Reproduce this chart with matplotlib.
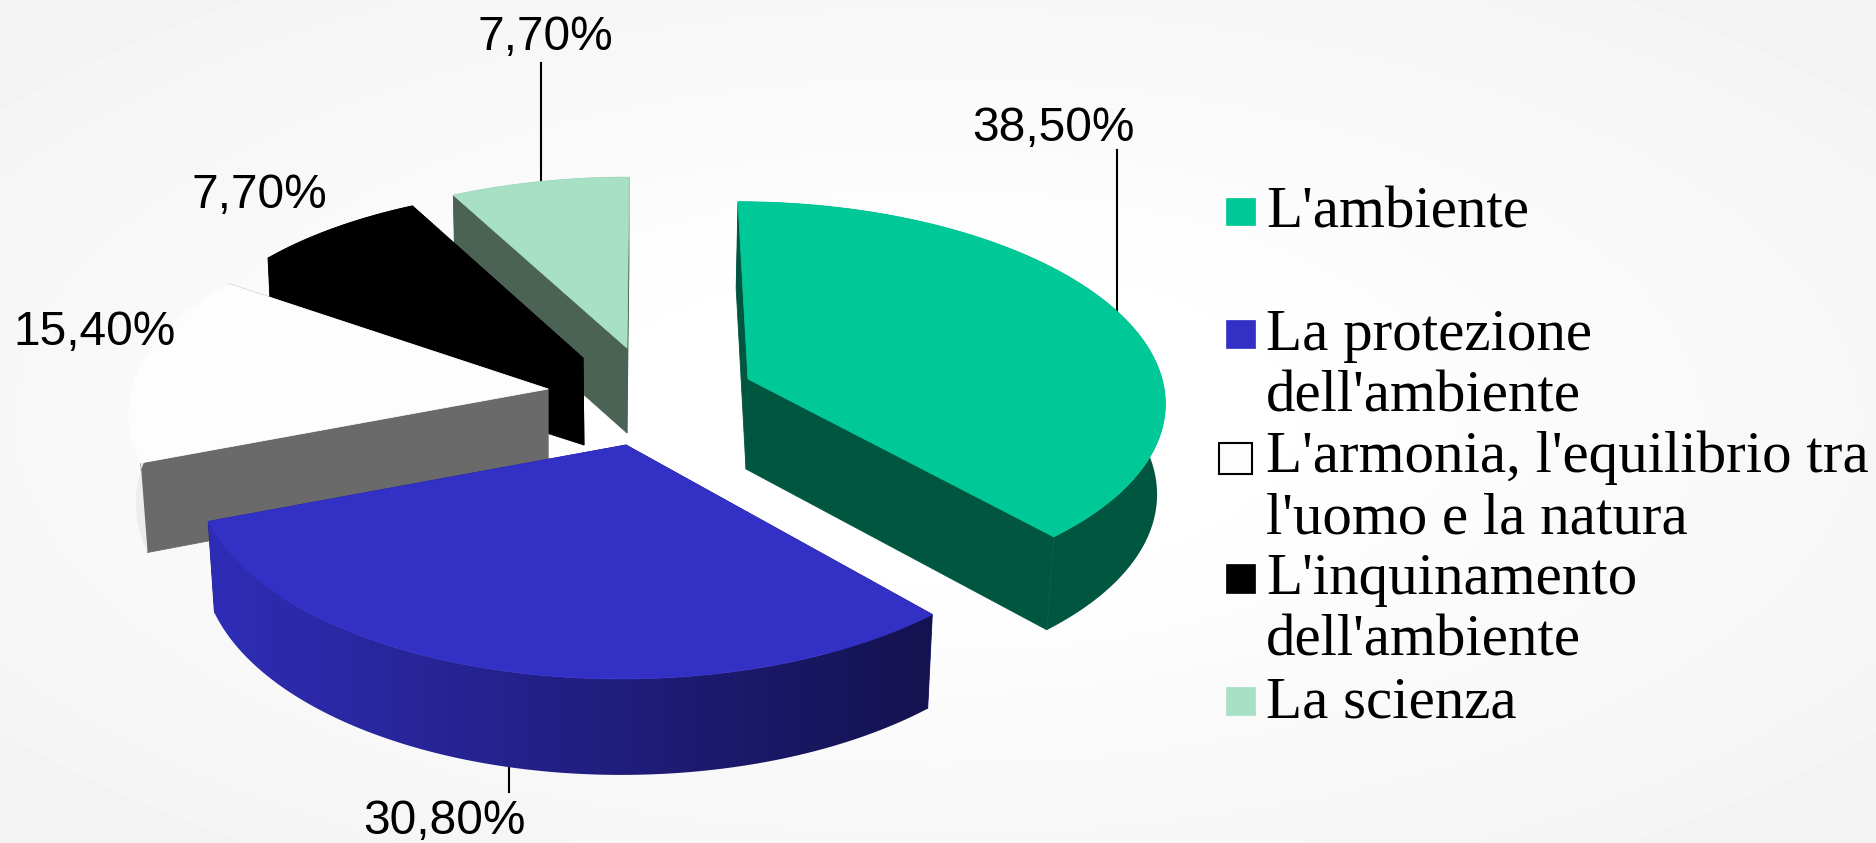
import numpy as np
import matplotlib
matplotlib.use('Agg')
import matplotlib.pyplot as plt
from matplotlib.colors import LinearSegmentedColormap
from matplotlib.patches import Polygon, Rectangle

##########################################################################################
#Data
labels = ["L'ambiente", "La protezione\ndell'ambiente", "L'armonia, l'equilibrio tra\nl'uomo e la natura",
          "L'inquinamento\ndell'ambiente", "La scienza"]
values = [38.5, 30.8, 15.4, 7.7, 7.7]
top_colors = ['#00C896', '#3330C6', '#FDFDFD', '#000000', '#A8E0C6']
cut_colors = ['#015640', '#1E1C80', '#6A6A6A', '#000000', '#4B6355']
arc_left = ['#015640', '#2F2DB6', '#F0F0F0', '#000000', '#4B6355']
arc_right = ['#015640', '#14124F', '#D8D8D8', '#000000', '#4B6355']

##########################################################################################
#Slice geometry, pixels: cx, cy, A, B, k (perspective), s (skew), depth x, depth y, scale x, scale y
geom = [(748, 379, 414, 195, 0.10, 11, -2, 90, 0.985, 1.02),
        (626, 445, 427, 207, 0.115, -4.3, 0, 89, 0.985, 1.03),
        (548, 389, 416, 199, 0.13, 1.2, 0, 88, 0.983, 1.02),
        (583, 358, 404, 184, 0.08, -5.6, 1, 87, 0.99, 1.0),
        (627, 348, 411, 188, 0.10, -2.2, 0, 85, 0.99, 1.0)]

#Percent labels: left x, baseline y. Leaders: x, y0, y1
pct_pos = [(972, 141), (363, 834), (13, 345), (192, 208), (477, 50)]
leaders = [(1117, 150, 312), (509, 767, 792), None, None, (541, 63, 182)]

#Legend: swatch x0, y0, x1, y1 and text baseline
swatches = [(1226, 198, 1255, 225), (1226, 320, 1255, 348), (1219, 443, 1252, 474),
            (1226, 564, 1255, 593), (1226, 687, 1255, 715)]
legend_y = [227, 350, 472, 594, 717]

##########################################################################################
#Initialise figure
fig = plt.figure(figsize=(18.76, 8.43), dpi=100)
ax = fig.add_axes([0, 0, 1, 1])

#Background vignette
gx, gy = np.meshgrid(np.linspace(-1, 1, 400), np.linspace(-1, 1, 200))
shade = 1 - 0.05 * np.clip((np.hypot(gx, gy) - 0.3) / 1.1, 0, 1)
ax.imshow(shade, cmap='gray', vmin=0, vmax=1, extent=(0, 1876, 843, 0), aspect='auto',
          interpolation='bilinear', zorder=0)

##########################################################################################
#Slices
def top_point(g, theta):
    cx, cy, a, b, k, s = g[:6]
    u, v = np.sin(theta), -np.cos(theta)
    w = 1 - k * v
    return cx + (a * u + s * v) / w, cy + b * v / w

def bottom_point(g, theta):
    cx, cy = g[:2]
    x, y = top_point(g, theta)
    return cx + g[6] + g[8] * (x - cx), cy + g[7] + g[9] * (y - cy)

def face(pts, color, z):
    ax.add_patch(Polygon(pts, closed=True, fc=color, ec=color, lw=0.6, zorder=z))

edges = np.radians(np.cumsum([0] + values) / sum(values) * 360)
order = [4, 3, 2, 0, 1]
for z, i in enumerate(order):
    g = geom[i]
    t0, t1 = edges[i], edges[i + 1]
    base = 2 + z * 4
    apex = (g[0], g[1])
    apex_b = (g[0] + g[6], g[1] + g[7])
    ts = np.linspace(t0, t1, 121)
    arc_x, arc_y = top_point(g, ts)
    #cut faces
    for t in (t0, t1):
        px, py = top_point(g, t)
        qx, qy = bottom_point(g, t)
        face([(px, py), apex, apex_b, (qx, qy)], cut_colors[i], base + (0.5 if t == t0 else 0))
    #outer side, shaded from left to right
    xb, yb = bottom_point(g, ts)
    pts = list(zip(arc_x, arc_y)) + list(zip(xb[::-1], yb[::-1]))
    side = Polygon(pts, closed=True, fc='none', ec='none', transform=ax.transData)
    ax.add_patch(side)
    cmap = LinearSegmentedColormap.from_list('side', [arc_left[i], arc_right[i]])
    x0, x1 = min(arc_x.min(), xb.min()), max(arc_x.max(), xb.max())
    y0, y1 = min(arc_y.min(), yb.min()), max(arc_y.max(), yb.max())
    im = ax.imshow(np.linspace(0, 1, 256).reshape(1, -1), cmap=cmap, vmin=0, vmax=1, aspect='auto',
                   extent=(x0, x1, y1, y0), interpolation='bilinear', zorder=base + 1)
    im.set_clip_path(side)
    #top
    face(list(zip(arc_x, arc_y)) + [apex], top_colors[i], base + 2)

ax.set_xlim(0, 1876)
ax.set_ylim(843, 0)
ax.axis('off')

##########################################################################################
#Percent labels and leaders
for v, p, l in zip(values, pct_pos, leaders):
    ax.text(p[0], p[1], f"{v:.2f}%".replace('.', ','), family='Liberation Sans', fontsize=34.5,
            ha='left', va='baseline', color='black', zorder=40)
    if l is not None:
        ax.plot([l[0], l[0]], [l[1], l[2]], color='black', lw=1.5, zorder=1)

##########################################################################################
#Legend
for i, (lab, sw, y) in enumerate(zip(labels, swatches, legend_y)):
    ec = 'black' if i == 2 else top_colors[i]
    ax.add_patch(Rectangle((sw[0], sw[1]), sw[2] - sw[0], sw[3] - sw[1], fc=top_colors[i], ec=ec,
                           lw=1.5 if i == 2 else 0.5, zorder=40))
    for j, line in enumerate(lab.split('\n')):
        ax.text(1266, y + j * 62, line, family='Liberation Serif', fontsize=42.5,
                ha='left', va='baseline', color='black', zorder=40)

##########################################################################################
#Save and close figure
fig.savefig('out.png', dpi=100)
plt.close(fig)
